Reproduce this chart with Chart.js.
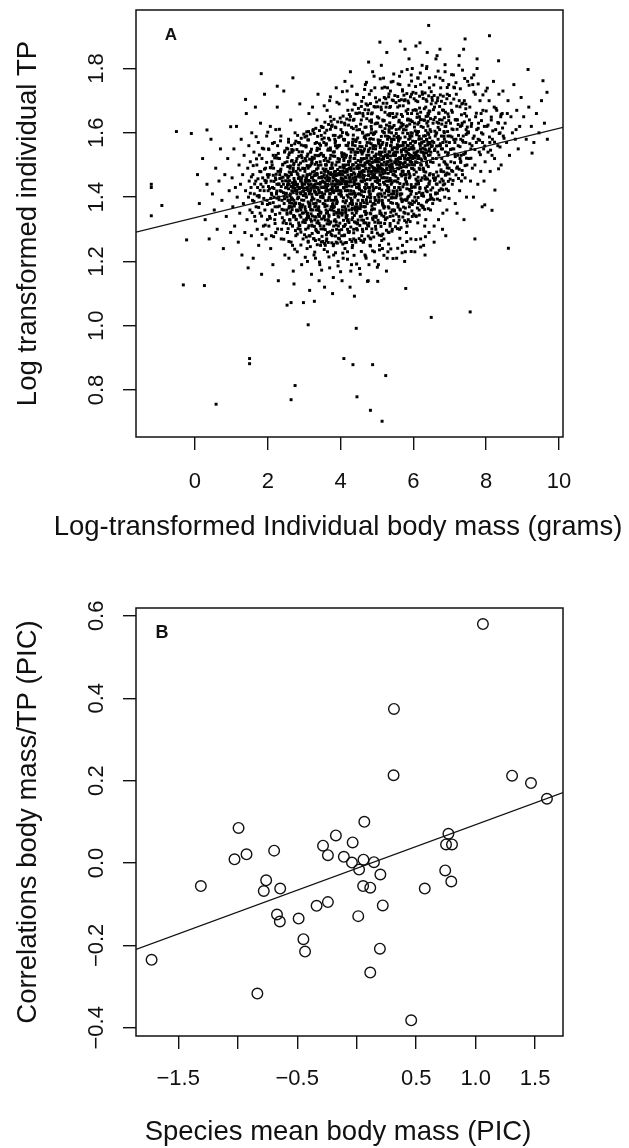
<!DOCTYPE html>
<html>
<head>
<meta charset="utf-8">
<script src="https://cdn.jsdelivr.net/npm/chart.js@4.4.1/dist/chart.umd.min.js"></script>
<style>
  html, body { margin: 0; padding: 0; background: #fff; }
  #wrap { position: relative; width: 629px; height: 1148px; }
  canvas { position: absolute; left: 0; }
</style>
</head>
<body>
<div id="wrap">
  <canvas id="panelA" width="629" height="560" style="top:0"></canvas>
  <canvas id="panelB" width="629" height="588" style="top:560px"></canvas>
</div>
<script>
// ---- Panel A: individual body mass vs trophic position (pairs: mass, TP) ----
const outliersA = [
  -1.20,1.44, -1.20,1.43, -0.91,1.374, -1.20,1.342, -0.51,1.604, -0.10,1.598, 0.33,1.609, 0.98,1.619,
  1.39,1.704, 1.82,1.784, 2.69,1.771, 2.26,1.745, -0.32,1.127, 0.26,1.125, -0.23,1.267,
  0.58,0.756, 1.50,0.898, 1.50,0.882, 2.75,0.814, 2.64,0.770, 3.11,1.003, 4.09,0.898, 4.34,0.879,
  4.88,0.879, 5.24,0.845, 4.45,0.779, 4.82,0.737, 5.14,0.703, 4.43,0.992, 6.49,1.026, 7.56,1.043,
  2.53,1.064, 2.64,1.072, 2.98,1.072, 3.28,1.076, 8.61,1.241, 5.79,1.116, 4.38,1.092, 4.74,1.138,
  5.02,1.138, 6.42,1.934, 5.08,1.882, 5.64,1.885, 7.42,1.892, 8.09,1.902, 8.34,1.824, 9.15,1.797,
  9.56,1.762, 9.67,1.726, 9.26,1.537, 8.34,1.488, 8.24,1.422, 8.16,1.359, 7.96,1.376, 7.69,1.27,
  6.07,1.87, 6.73,1.86, 5.97,1.80, 7.26,1.84, 7.75,1.83
];

const mass0to2 = [
  0.07,1.47, 0.12,1.38, 0.21,1.52, 0.28,1.33, 0.33,1.44, 0.39,1.27, 0.44,1.58, 0.48,1.41,
  0.53,1.36, 0.57,1.49, 0.61,1.30, 0.66,1.45, 0.70,1.55, 0.74,1.39, 0.78,1.24, 0.82,1.47, 0.86,1.34, 0.90,1.52, 0.94,1.42, 0.98,1.29,
  1.02,1.46, 1.04,1.37, 1.07,1.55, 1.09,1.31, 1.11,1.43, 1.14,1.62, 1.16,1.40, 1.19,1.26, 1.21,1.50, 1.23,1.35, 1.25,1.44, 1.27,1.58,
  1.29,1.22, 1.31,1.47, 1.33,1.38, 1.35,1.53, 1.37,1.29, 1.39,1.42, 1.41,1.66, 1.43,1.33, 1.45,1.49, 1.46,1.18, 1.47,1.40, 1.48,1.56, 1.49,1.45,
  1.51,1.36, 1.52,1.51, 1.54,1.43, 1.55,1.28, 1.56,1.60, 1.58,1.39, 1.59,1.47, 1.60,1.21, 1.62,1.54, 1.63,1.41, 1.64,1.34, 1.66,1.68,
  1.67,1.45, 1.68,1.37, 1.70,1.50, 1.71,1.30, 1.72,1.43, 1.74,1.57, 1.75,1.25, 1.76,1.40, 1.78,1.48, 1.79,1.35, 1.80,1.63, 1.81,1.44,
  1.83,1.16, 1.84,1.52, 1.85,1.38, 1.86,1.46, 1.88,1.31, 1.89,1.55, 1.90,1.42, 1.91,1.72, 1.92,1.36, 1.94,1.49, 1.95,1.27, 1.96,1.45,
  1.97,1.59, 1.98,1.39, 1.99,1.33, 1.99,1.47
];

const mass2to3 = [
  2.01,1.42, 2.02,1.55, 2.03,1.31, 2.04,1.47, 2.06,1.38, 2.07,1.62, 2.08,1.24, 2.09,1.45, 2.11,1.51, 2.12,1.36, 2.13,1.43, 2.14,1.19,
  2.16,1.49, 2.17,1.40, 2.18,1.57, 2.19,1.33, 2.21,1.46, 2.22,1.29, 2.23,1.53, 2.24,1.41, 2.26,1.68, 2.27,1.37, 2.28,1.48, 2.29,1.14,
  2.31,1.44, 2.32,1.52, 2.33,1.35, 2.34,1.42, 2.36,1.59, 2.37,1.27, 2.38,1.46, 2.39,1.39, 2.41,1.50, 2.42,1.32, 2.43,1.44, 2.44,1.73,
  2.45,1.38, 2.46,1.54, 2.47,1.22, 2.48,1.47, 2.49,1.41, 2.12,1.50, 2.20,1.37, 2.25,1.44, 2.30,1.40, 2.35,1.48, 2.40,1.45, 2.05,1.34,
  2.15,1.53, 2.10,1.28, 2.27,1.56, 2.33,1.47, 2.44,1.36, 2.38,1.30, 2.22,1.61,
  2.51,1.43, 2.52,1.36, 2.53,1.51, 2.54,1.29, 2.55,1.46, 2.56,1.39, 2.57,1.58, 2.58,1.21, 2.59,1.44, 2.60,1.33, 2.61,1.49, 2.62,1.41,
  2.63,1.64, 2.64,1.26, 2.65,1.47, 2.66,1.37, 2.67,1.54, 2.68,1.31, 2.69,1.43, 2.70,1.17, 2.71,1.50, 2.72,1.39, 2.73,1.45, 2.74,1.34,
  2.75,1.60, 2.76,1.42, 2.77,1.28, 2.78,1.48, 2.79,1.36, 2.80,1.52, 2.81,1.23, 2.82,1.44, 2.83,1.40, 2.84,1.57, 2.85,1.32, 2.86,1.46,
  2.87,1.38, 2.88,1.69, 2.89,1.30, 2.90,1.45, 2.91,1.41, 2.92,1.53, 2.93,1.19, 2.94,1.43, 2.95,1.35, 2.96,1.49, 2.97,1.27, 2.98,1.42,
  2.99,1.56, 2.53,1.40, 2.57,1.45, 2.61,1.37, 2.66,1.42, 2.70,1.48, 2.74,1.44, 2.78,1.33, 2.83,1.47, 2.87,1.43, 2.91,1.36, 2.95,1.44,
  2.99,1.39, 2.55,1.55, 2.68,1.25, 2.72,1.13, 2.80,1.41, 2.85,1.50, 2.93,1.46, 2.63,1.35, 2.76,1.38
];

const mass3to4 = [
  3.01,1.44, 3.02,1.37, 3.03,1.52, 3.04,1.30, 3.05,1.46, 3.06,1.40, 3.07,1.59, 3.08,1.24, 3.09,1.43, 3.10,1.35, 3.11,1.49, 3.12,1.42,
  3.13,1.66, 3.14,1.28, 3.15,1.47, 3.16,1.38, 3.17,1.54, 3.18,1.33, 3.19,1.44, 3.20,1.16, 3.21,1.51, 3.22,1.40, 3.23,1.46, 3.24,1.36,
  3.25,1.61, 3.26,1.43, 3.27,1.27, 3.28,1.48, 3.29,1.37, 3.30,1.53, 3.31,1.21, 3.32,1.45, 3.33,1.41, 3.34,1.57, 3.35,1.32, 3.36,1.47,
  3.37,1.39, 3.38,1.72, 3.39,1.29, 3.40,1.46, 3.41,1.42, 3.42,1.55, 3.43,1.19, 3.44,1.44, 3.45,1.35, 3.46,1.50, 3.47,1.26, 3.48,1.43,
  3.49,1.58, 3.02,1.48, 3.06,1.33, 3.10,1.45, 3.14,1.41, 3.18,1.50, 3.22,1.31, 3.26,1.38, 3.30,1.44, 3.34,1.36, 3.38,1.49, 3.42,1.34,
  3.46,1.40, 3.04,1.41, 3.08,1.47, 3.12,1.34, 3.16,1.45, 3.20,1.39, 3.24,1.52, 3.28,1.42, 3.32,1.30, 3.36,1.43, 3.40,1.37, 3.44,1.51,
  3.48,1.46, 3.15,1.11, 3.27,1.22, 3.35,1.64, 3.45,1.25, 3.05,1.56, 3.11,1.26, 3.23,1.68, 3.41,1.14, 3.31,1.47, 3.19,1.36, 3.09,1.20,
  3.47,1.62,
  3.51,1.45, 3.52,1.38, 3.53,1.53, 3.54,1.31, 3.55,1.47, 3.56,1.41, 3.57,1.60, 3.58,1.25, 3.59,1.44, 3.60,1.36, 3.61,1.50, 3.62,1.43,
  3.63,1.67, 3.64,1.29, 3.65,1.48, 3.66,1.39, 3.67,1.55, 3.68,1.34, 3.69,1.45, 3.70,1.18, 3.71,1.52, 3.72,1.41, 3.73,1.47, 3.74,1.37,
  3.75,1.62, 3.76,1.44, 3.77,1.28, 3.78,1.49, 3.79,1.38, 3.80,1.54, 3.81,1.22, 3.82,1.46, 3.83,1.42, 3.84,1.58, 3.85,1.33, 3.86,1.48,
  3.87,1.40, 3.88,1.74, 3.89,1.30, 3.90,1.47, 3.91,1.43, 3.92,1.56, 3.93,1.20, 3.94,1.45, 3.95,1.36, 3.96,1.51, 3.97,1.27, 3.98,1.44,
  3.99,1.59, 3.51,1.40, 3.55,1.34, 3.59,1.50, 3.63,1.42, 3.67,1.46, 3.71,1.32, 3.75,1.39, 3.79,1.45, 3.83,1.37, 3.87,1.50, 3.91,1.35,
  3.95,1.41, 3.99,1.48, 3.53,1.43, 3.57,1.48, 3.61,1.35, 3.65,1.44, 3.69,1.40, 3.73,1.53, 3.77,1.43, 3.81,1.31, 3.85,1.44, 3.89,1.38,
  3.93,1.52, 3.97,1.47, 3.56,1.12, 3.64,1.23, 3.72,1.65, 3.80,1.15, 3.88,1.26, 3.96,1.69, 3.54,1.57, 3.62,1.27, 3.70,1.70, 3.78,1.10,
  3.86,1.56, 3.94,1.31, 3.58,1.46, 3.66,1.33, 3.74,1.49, 3.82,1.39, 3.90,1.42, 3.98,1.35, 3.60,1.42, 3.76,1.36, 3.84,1.47, 3.92,1.45,
  3.68,1.51
];

const mass4to5 = [
  4.49,1.47, 4.48,1.39, 4.47,1.55, 4.46,1.32, 4.45,1.49, 4.44,1.43, 4.43,1.62, 4.42,1.26, 4.41,1.46, 4.40,1.37, 4.39,1.52, 4.38,1.44,
  4.37,1.69, 4.36,1.30, 4.35,1.50, 4.34,1.41, 4.33,1.57, 4.32,1.35, 4.31,1.47, 4.30,1.19, 4.29,1.54, 4.28,1.42, 4.27,1.49, 4.26,1.38,
  4.25,1.64, 4.24,1.46, 4.23,1.29, 4.22,1.51, 4.21,1.40, 4.20,1.56, 4.19,1.23, 4.18,1.48, 4.17,1.44, 4.16,1.60, 4.15,1.34, 4.14,1.50,
  4.13,1.42, 4.12,1.76, 4.11,1.31, 4.10,1.49, 4.09,1.45, 4.08,1.58, 4.07,1.21, 4.06,1.47, 4.05,1.37, 4.04,1.53, 4.03,1.28, 4.02,1.46,
  4.01,1.61, 4.01,1.42, 4.05,1.36, 4.09,1.52, 4.13,1.44, 4.17,1.48, 4.21,1.33, 4.25,1.41, 4.29,1.47, 4.33,1.38, 4.37,1.52, 4.41,1.36,
  4.45,1.43, 4.49,1.50, 4.03,1.45, 4.07,1.50, 4.11,1.37, 4.15,1.46, 4.19,1.42, 4.23,1.55, 4.27,1.45, 4.31,1.33, 4.35,1.46, 4.39,1.40,
  4.43,1.54, 4.47,1.49, 4.04,1.14, 4.12,1.24, 4.20,1.67, 4.28,1.17, 4.36,1.27, 4.44,1.72, 4.02,1.59, 4.10,1.28, 4.18,1.73, 4.26,1.12,
  4.34,1.58, 4.42,1.32, 4.06,1.48, 4.14,1.35, 4.22,1.51, 4.30,1.41, 4.38,1.44, 4.46,1.37, 4.08,1.43, 4.16,1.53, 4.24,1.49, 4.32,1.39,
  4.40,1.56, 4.48,1.41, 4.11,1.63, 4.27,1.79, 4.33,1.25, 4.45,1.66, 4.19,1.30, 4.39,1.54, 4.23,1.36,
  4.51,1.49, 4.52,1.41, 4.53,1.57, 4.54,1.34, 4.55,1.51, 4.56,1.45, 4.57,1.64, 4.58,1.28, 4.59,1.48, 4.60,1.39, 4.61,1.54, 4.62,1.46,
  4.63,1.71, 4.64,1.32, 4.65,1.52, 4.66,1.43, 4.67,1.59, 4.68,1.37, 4.69,1.49, 4.70,1.21, 4.71,1.56, 4.72,1.44, 4.73,1.51, 4.74,1.40,
  4.75,1.66, 4.76,1.48, 4.77,1.31, 4.78,1.53, 4.79,1.42, 4.80,1.58, 4.81,1.25, 4.82,1.50, 4.83,1.46, 4.84,1.62, 4.85,1.36, 4.86,1.52,
  4.87,1.44, 4.88,1.79, 4.89,1.33, 4.90,1.51, 4.91,1.47, 4.92,1.60, 4.93,1.23, 4.94,1.49, 4.95,1.39, 4.96,1.55, 4.97,1.30, 4.98,1.48,
  4.99,1.63, 4.51,1.44, 4.55,1.38, 4.59,1.54, 4.63,1.46, 4.67,1.50, 4.71,1.35, 4.75,1.43, 4.79,1.49, 4.83,1.40, 4.87,1.54, 4.91,1.38,
  4.95,1.45, 4.99,1.52, 4.53,1.47, 4.57,1.52, 4.61,1.39, 4.65,1.48, 4.69,1.44, 4.73,1.57, 4.77,1.47, 4.81,1.35, 4.85,1.48, 4.89,1.42,
  4.93,1.56, 4.97,1.51, 4.54,1.16, 4.62,1.26, 4.70,1.69, 4.78,1.19, 4.86,1.29, 4.94,1.74, 4.52,1.61, 4.60,1.30, 4.68,1.75, 4.76,1.14,
  4.84,1.60, 4.92,1.34, 4.56,1.50, 4.64,1.37, 4.72,1.53, 4.80,1.43, 4.88,1.46, 4.96,1.39, 4.58,1.45, 4.66,1.55, 4.74,1.51, 4.82,1.41,
  4.90,1.58, 4.98,1.43, 4.61,1.66, 4.77,1.82, 4.83,1.27, 4.95,1.68, 4.69,1.32, 4.89,1.56, 4.73,1.38, 4.57,1.42, 4.85,1.64, 4.93,1.47,
  4.67,1.22, 4.79,1.72
];

const mass5to6 = [
  5.49,1.51, 5.48,1.43, 5.47,1.59, 5.46,1.36, 5.45,1.53, 5.44,1.47, 5.43,1.66, 5.42,1.30, 5.41,1.50, 5.40,1.41, 5.39,1.56, 5.38,1.48,
  5.37,1.73, 5.36,1.34, 5.35,1.54, 5.34,1.45, 5.33,1.61, 5.32,1.39, 5.31,1.51, 5.30,1.23, 5.29,1.58, 5.28,1.46, 5.27,1.53, 5.26,1.42,
  5.25,1.68, 5.24,1.50, 5.23,1.33, 5.22,1.55, 5.21,1.44, 5.20,1.60, 5.19,1.27, 5.18,1.52, 5.17,1.48, 5.16,1.64, 5.15,1.38, 5.14,1.54,
  5.13,1.46, 5.12,1.81, 5.11,1.35, 5.10,1.53, 5.09,1.49, 5.08,1.62, 5.07,1.25, 5.06,1.51, 5.05,1.41, 5.04,1.57, 5.03,1.32, 5.02,1.50,
  5.01,1.65, 5.01,1.46, 5.05,1.40, 5.09,1.56, 5.13,1.48, 5.17,1.52, 5.21,1.37, 5.25,1.45, 5.29,1.51, 5.33,1.42, 5.37,1.56, 5.41,1.40,
  5.45,1.47, 5.49,1.54, 5.03,1.49, 5.07,1.54, 5.11,1.41, 5.15,1.50, 5.19,1.46, 5.23,1.59, 5.27,1.49, 5.31,1.37, 5.35,1.50, 5.39,1.44,
  5.43,1.58, 5.47,1.53, 5.04,1.19, 5.12,1.28, 5.20,1.71, 5.28,1.21, 5.36,1.31, 5.44,1.76, 5.02,1.63, 5.10,1.32, 5.18,1.77, 5.26,1.17,
  5.34,1.62, 5.42,1.36, 5.06,1.52, 5.14,1.39, 5.22,1.55, 5.30,1.45, 5.38,1.48, 5.46,1.41, 5.08,1.47, 5.16,1.57, 5.24,1.53, 5.32,1.43,
  5.40,1.60, 5.48,1.45, 5.11,1.68, 5.27,1.85, 5.33,1.29, 5.45,1.70, 5.19,1.34, 5.39,1.58, 5.23,1.40, 5.07,1.44, 5.35,1.66, 5.43,1.49,
  5.15,1.24, 5.29,1.74,
  5.51,1.53, 5.52,1.45, 5.53,1.61, 5.54,1.38, 5.55,1.55, 5.56,1.49, 5.57,1.68, 5.58,1.32, 5.59,1.52, 5.60,1.43, 5.61,1.58, 5.62,1.50,
  5.63,1.75, 5.64,1.36, 5.65,1.56, 5.66,1.47, 5.67,1.63, 5.68,1.41, 5.69,1.53, 5.70,1.25, 5.71,1.60, 5.72,1.48, 5.73,1.55, 5.74,1.44,
  5.75,1.70, 5.76,1.52, 5.77,1.35, 5.78,1.57, 5.79,1.46, 5.80,1.62, 5.81,1.29, 5.82,1.54, 5.83,1.50, 5.84,1.66, 5.85,1.40, 5.86,1.56,
  5.87,1.48, 5.88,1.83, 5.89,1.37, 5.90,1.55, 5.91,1.51, 5.92,1.64, 5.93,1.27, 5.94,1.53, 5.95,1.43, 5.96,1.59, 5.97,1.34, 5.98,1.52,
  5.99,1.67, 5.51,1.48, 5.55,1.42, 5.59,1.58, 5.63,1.50, 5.67,1.54, 5.71,1.39, 5.75,1.47, 5.79,1.53, 5.83,1.44, 5.87,1.58, 5.91,1.42,
  5.95,1.49, 5.99,1.56, 5.53,1.51, 5.57,1.56, 5.61,1.43, 5.65,1.52, 5.69,1.48, 5.73,1.61, 5.77,1.51, 5.81,1.39, 5.85,1.52, 5.89,1.46,
  5.93,1.60, 5.97,1.55, 5.54,1.21, 5.62,1.30, 5.70,1.73, 5.78,1.23, 5.86,1.33, 5.94,1.78, 5.52,1.65, 5.60,1.34, 5.68,1.79, 5.76,1.20,
  5.84,1.64, 5.92,1.38, 5.56,1.54, 5.64,1.41, 5.72,1.57, 5.80,1.47, 5.88,1.50, 5.96,1.43, 5.61,1.70, 5.77,1.86, 5.83,1.31, 5.95,1.72
];

const mass6to7 = [
  6.01,1.55, 6.02,1.47, 6.03,1.63, 6.04,1.40, 6.05,1.57, 6.06,1.51, 6.07,1.70, 6.08,1.34, 6.09,1.54, 6.10,1.45, 6.11,1.60, 6.12,1.52,
  6.13,1.77, 6.14,1.38, 6.15,1.58, 6.16,1.49, 6.17,1.65, 6.18,1.43, 6.19,1.55, 6.20,1.27, 6.21,1.62, 6.22,1.50, 6.23,1.57, 6.24,1.46,
  6.25,1.72, 6.26,1.54, 6.27,1.37, 6.28,1.59, 6.29,1.48, 6.30,1.64, 6.31,1.31, 6.32,1.56, 6.33,1.52, 6.34,1.68, 6.35,1.42, 6.36,1.58,
  6.37,1.50, 6.38,1.85, 6.39,1.39, 6.40,1.57, 6.41,1.53, 6.42,1.66, 6.43,1.29, 6.44,1.55, 6.45,1.45, 6.46,1.61, 6.47,1.36, 6.48,1.54,
  6.49,1.69, 6.03,1.50, 6.07,1.44, 6.11,1.60, 6.15,1.52, 6.19,1.56, 6.23,1.41, 6.27,1.49, 6.31,1.55, 6.35,1.46, 6.39,1.60, 6.43,1.44,
  6.47,1.51, 6.05,1.53, 6.13,1.45, 6.21,1.54, 6.29,1.53, 6.37,1.63, 6.45,1.57, 6.04,1.23, 6.12,1.32, 6.20,1.75, 6.28,1.25, 6.36,1.80,
  6.44,1.74, 6.08,1.67, 6.16,1.36, 6.24,1.81, 6.32,1.22, 6.40,1.66, 6.48,1.40, 6.18,1.88, 6.34,1.33,
  6.99,1.57, 6.98,1.49, 6.97,1.65, 6.96,1.42, 6.95,1.59, 6.94,1.53, 6.93,1.72, 6.92,1.36, 6.91,1.56, 6.90,1.47, 6.89,1.62, 6.88,1.54,
  6.87,1.79, 6.86,1.40, 6.85,1.60, 6.84,1.51, 6.83,1.67, 6.82,1.45, 6.81,1.57, 6.80,1.30, 6.79,1.64, 6.78,1.52, 6.77,1.59, 6.76,1.48,
  6.75,1.74, 6.74,1.56, 6.73,1.39, 6.72,1.61, 6.71,1.50, 6.70,1.66, 6.69,1.33, 6.68,1.58, 6.67,1.54, 6.66,1.70, 6.65,1.44, 6.64,1.60,
  6.63,1.52, 6.62,1.83, 6.61,1.41, 6.60,1.59, 6.59,1.55, 6.58,1.68, 6.57,1.31, 6.56,1.57, 6.55,1.47, 6.54,1.63, 6.53,1.38, 6.52,1.56,
  6.51,1.71, 6.53,1.52, 6.61,1.46, 6.69,1.63, 6.77,1.55, 6.85,1.58, 6.93,1.50, 6.57,1.26, 6.73,1.77, 6.89,1.28, 6.65,1.84, 6.81,1.35,
  6.97,1.75, 6.55,1.46, 6.71,1.56, 6.87,1.62
];

const mass7to10 = [
  7.01,1.59, 7.03,1.51, 7.05,1.67, 7.07,1.44, 7.09,1.61, 7.11,1.55, 7.13,1.74, 7.15,1.38, 7.17,1.58, 7.19,1.49, 7.21,1.64, 7.23,1.56,
  7.25,1.81, 7.27,1.42, 7.29,1.62, 7.31,1.53, 7.33,1.69, 7.35,1.47, 7.37,1.59, 7.39,1.33, 7.41,1.66, 7.43,1.54, 7.45,1.61, 7.47,1.50,
  7.49,1.76, 7.02,1.63, 7.08,1.48, 7.14,1.57, 7.20,1.35, 7.26,1.70, 7.32,1.45, 7.38,1.86, 7.44,1.57, 7.10,1.78, 7.22,1.53, 7.34,1.63,
  7.46,1.40, 7.06,1.55, 7.18,1.72, 7.30,1.58, 7.42,1.46, 7.16,1.64, 7.28,1.52, 7.40,1.70, 7.48,1.60,
  7.51,1.60, 7.53,1.52, 7.55,1.68, 7.57,1.45, 7.59,1.62, 7.61,1.56, 7.63,1.75, 7.65,1.40, 7.67,1.59, 7.69,1.50, 7.71,1.65, 7.73,1.57,
  7.75,1.80, 7.77,1.44, 7.79,1.63, 7.81,1.54, 7.83,1.70, 7.85,1.48, 7.87,1.60, 7.89,1.37, 7.91,1.67, 7.93,1.55, 7.95,1.62, 7.97,1.51,
  7.99,1.73, 7.54,1.64, 7.62,1.49, 7.70,1.72, 7.78,1.58, 7.86,1.66, 7.94,1.45, 7.58,1.55, 7.74,1.61, 7.90,1.57, 7.66,1.78,
  8.02,1.62, 8.05,1.54, 8.08,1.70, 8.11,1.48, 8.14,1.64, 8.17,1.58, 8.20,1.76, 8.23,1.52, 8.26,1.61, 8.29,1.67, 8.32,1.56, 8.35,1.72,
  8.38,1.60, 8.41,1.50, 8.44,1.66, 8.47,1.59, 8.10,1.57, 8.22,1.68, 8.34,1.63, 8.46,1.73, 8.16,1.53, 8.40,1.65,
  8.52,1.63, 8.56,1.57, 8.60,1.70, 8.64,1.53, 8.68,1.65, 8.72,1.60, 8.76,1.75, 8.80,1.58, 8.84,1.67, 8.88,1.55, 8.92,1.62, 8.96,1.71,
  8.58,1.66, 8.82,1.61,
  9.03,1.65, 9.10,1.58, 9.17,1.68, 9.24,1.62, 9.31,1.57, 9.38,1.66, 9.45,1.60, 9.52,1.70, 9.60,1.63, 9.68,1.58
];

// the crowded middle of the cloud (mass 2-7)
const denseCore = [
  2.02,1.433, 2.05,1.381, 2.07,1.492, 2.10,1.412, 2.12,1.356, 2.15,1.468, 2.17,1.427, 2.20,1.318, 2.22,1.455, 2.25,1.397,
  2.27,1.521, 2.30,1.441, 2.32,1.372, 2.35,1.483, 2.37,1.418, 2.40,1.336, 2.42,1.462, 2.45,1.403, 2.47,1.507, 2.49,1.429,
  2.51,1.412, 2.52,1.468, 2.53,1.351, 2.54,1.437, 2.55,1.495, 2.56,1.389, 2.57,1.426, 2.58,1.532, 2.59,1.372, 2.60,1.451,
  2.61,1.404, 2.62,1.317, 2.63,1.476, 2.64,1.433, 2.65,1.398, 2.66,1.548, 2.67,1.361, 2.68,1.445, 2.69,1.417, 2.70,1.489,
  2.71,1.338, 2.72,1.458, 2.73,1.379, 2.74,1.427, 2.55,1.442, 2.60,1.383, 2.65,1.512, 2.70,1.436, 2.58,1.465, 2.68,1.394,
  2.76,1.447, 2.77,1.382, 2.78,1.511, 2.79,1.419, 2.80,1.357, 2.81,1.473, 2.82,1.431, 2.83,1.302, 2.84,1.458, 2.85,1.399,
  2.86,1.541, 2.87,1.426, 2.88,1.367, 2.89,1.484, 2.90,1.413, 2.91,1.338, 2.92,1.452, 2.93,1.391, 2.94,1.523, 2.95,1.437,
  2.96,1.376, 2.97,1.466, 2.98,1.405, 2.99,1.329, 2.78,1.438, 2.82,1.395, 2.86,1.462, 2.90,1.371, 2.94,1.444, 2.98,1.489,
  2.80,1.421, 2.88,1.312, 2.92,1.562, 2.96,1.418,
  3.01,1.428, 3.02,1.489, 3.03,1.362, 3.04,1.447, 3.05,1.513, 3.06,1.401, 3.07,1.334, 3.08,1.466, 3.09,1.423, 3.10,1.578,
  3.11,1.385, 3.12,1.452, 3.13,1.311, 3.14,1.437, 3.15,1.496, 3.16,1.372, 3.17,1.419, 3.18,1.541, 3.19,1.348, 3.20,1.461,
  3.21,1.409, 3.22,1.287, 3.23,1.478, 3.24,1.433, 3.02,1.411, 3.05,1.355, 3.08,1.527, 3.11,1.441, 3.14,1.379, 3.17,1.472,
  3.20,1.325, 3.23,1.396, 3.06,1.458, 3.12,1.604, 3.18,1.429, 3.21,1.505, 3.09,1.343, 3.15,1.415,
  3.26,1.452, 3.27,1.394, 3.28,1.521, 3.29,1.417, 3.30,1.339, 3.31,1.468, 3.32,1.431, 3.33,1.296, 3.34,1.487, 3.35,1.408,
  3.36,1.552, 3.37,1.442, 3.38,1.365, 3.39,1.499, 3.40,1.423, 3.41,1.318, 3.42,1.461, 3.43,1.387, 3.44,1.532, 3.45,1.446,
  3.46,1.353, 3.47,1.476, 3.48,1.414, 3.49,1.278, 3.27,1.437, 3.30,1.502, 3.33,1.381, 3.36,1.429, 3.39,1.346, 3.42,1.566,
  3.45,1.401, 3.48,1.463, 3.29,1.329, 3.35,1.474, 3.41,1.413, 3.47,1.592, 3.32,1.372, 3.44,1.311,
  3.51,1.463, 3.52,1.398, 3.53,1.527, 3.54,1.431, 3.55,1.341, 3.56,1.482, 3.57,1.445, 3.58,1.299, 3.59,1.501, 3.60,1.419,
  3.61,1.566, 3.62,1.452, 3.63,1.373, 3.64,1.512, 3.65,1.436, 3.66,1.326, 3.67,1.474, 3.68,1.397, 3.69,1.548, 3.70,1.458,
  3.71,1.361, 3.72,1.489, 3.73,1.424, 3.74,1.284, 3.52,1.447, 3.55,1.514, 3.58,1.389, 3.61,1.438, 3.64,1.352, 3.67,1.583,
  3.70,1.411, 3.73,1.476, 3.54,1.335, 3.60,1.487, 3.66,1.421, 3.72,1.611, 3.57,1.378, 3.69,1.316, 3.63,1.466, 3.51,1.405,
  3.76,1.441, 3.77,1.506, 3.78,1.377, 3.79,1.462, 3.80,1.528, 3.81,1.414, 3.82,1.346, 3.83,1.479, 3.84,1.436, 3.85,1.592,
  3.86,1.398, 3.87,1.467, 3.88,1.323, 3.89,1.451, 3.90,1.509, 3.91,1.385, 3.92,1.432, 3.93,1.557, 3.94,1.359, 3.95,1.474,
  3.96,1.421, 3.97,1.297, 3.98,1.493, 3.99,1.446, 3.77,1.426, 3.80,1.367, 3.83,1.541, 3.86,1.455, 3.89,1.391, 3.92,1.486,
  3.95,1.338, 3.98,1.409, 3.79,1.471, 3.85,1.618, 3.91,1.442, 3.97,1.518, 3.82,1.356, 3.88,1.428, 3.94,1.272, 3.76,1.499,
  4.01,1.471, 4.02,1.405, 4.03,1.538, 4.04,1.442, 4.05,1.351, 4.06,1.493, 4.07,1.456, 4.08,1.309, 4.09,1.514, 4.10,1.428,
  4.11,1.579, 4.12,1.463, 4.13,1.382, 4.14,1.524, 4.15,1.447, 4.16,1.335, 4.17,1.486, 4.18,1.406, 4.19,1.561, 4.20,1.469,
  4.21,1.372, 4.22,1.501, 4.23,1.435, 4.24,1.293, 4.02,1.458, 4.05,1.526, 4.08,1.398, 4.11,1.449, 4.14,1.363, 4.17,1.597,
  4.20,1.421, 4.23,1.488, 4.04,1.344, 4.10,1.498, 4.16,1.432, 4.22,1.624, 4.07,1.387, 4.19,1.326, 4.13,1.477, 4.01,1.414,
  4.26,1.462, 4.27,1.527, 4.28,1.396, 4.29,1.483, 4.30,1.549, 4.31,1.434, 4.32,1.366, 4.33,1.501, 4.34,1.457, 4.35,1.613,
  4.36,1.418, 4.37,1.488, 4.38,1.343, 4.39,1.472, 4.40,1.531, 4.41,1.405, 4.42,1.453, 4.43,1.578, 4.44,1.379, 4.45,1.495,
  4.46,1.441, 4.47,1.317, 4.48,1.514, 4.49,1.467, 4.27,1.447, 4.30,1.388, 4.33,1.562, 4.36,1.476, 4.39,1.412, 4.42,1.507,
  4.45,1.358, 4.48,1.429, 4.29,1.492, 4.35,1.639, 4.41,1.463, 4.47,1.539, 4.32,1.377, 4.38,1.449, 4.44,1.302, 4.26,1.521,
  4.51,1.491, 4.52,1.425, 4.53,1.558, 4.54,1.462, 4.55,1.371, 4.56,1.513, 4.57,1.476, 4.58,1.329, 4.59,1.534, 4.60,1.448,
  4.61,1.599, 4.62,1.483, 4.63,1.402, 4.64,1.544, 4.65,1.467, 4.66,1.355, 4.67,1.506, 4.68,1.426, 4.69,1.581, 4.70,1.489,
  4.71,1.392, 4.72,1.521, 4.73,1.455, 4.74,1.313, 4.52,1.478, 4.55,1.546, 4.58,1.418, 4.61,1.469, 4.64,1.383, 4.67,1.617,
  4.70,1.441, 4.73,1.508, 4.54,1.364, 4.60,1.518, 4.66,1.452, 4.72,1.644, 4.57,1.407, 4.69,1.346, 4.63,1.497, 4.51,1.434,
  4.76,1.482, 4.77,1.547, 4.78,1.416, 4.79,1.503, 4.80,1.569, 4.81,1.454, 4.82,1.386, 4.83,1.521, 4.84,1.477, 4.85,1.633,
  4.86,1.438, 4.87,1.508, 4.88,1.363, 4.89,1.492, 4.90,1.551, 4.91,1.425, 4.92,1.473, 4.93,1.598, 4.94,1.399, 4.95,1.515,
  4.96,1.461, 4.97,1.337, 4.98,1.534, 4.99,1.487, 4.77,1.467, 4.80,1.408, 4.83,1.582, 4.86,1.496, 4.89,1.432, 4.92,1.527,
  4.95,1.378, 4.98,1.449, 4.79,1.512, 4.85,1.659, 4.91,1.483, 4.97,1.559, 4.82,1.397, 4.88,1.469, 4.94,1.322, 4.76,1.541,
  5.01,1.511, 5.02,1.445, 5.03,1.578, 5.04,1.482, 5.05,1.391, 5.06,1.533, 5.07,1.496, 5.08,1.349, 5.09,1.554, 5.10,1.468,
  5.11,1.619, 5.12,1.503, 5.13,1.422, 5.14,1.564, 5.15,1.487, 5.16,1.375, 5.17,1.526, 5.18,1.446, 5.19,1.601, 5.20,1.509,
  5.21,1.412, 5.22,1.541, 5.23,1.475, 5.24,1.333, 5.02,1.498, 5.05,1.566, 5.08,1.438, 5.11,1.489, 5.14,1.403, 5.17,1.637,
  5.20,1.461, 5.23,1.528, 5.04,1.384, 5.10,1.538, 5.16,1.472, 5.22,1.664, 5.07,1.427, 5.19,1.366, 5.13,1.517, 5.01,1.454,
  5.26,1.502, 5.27,1.567, 5.28,1.436, 5.29,1.523, 5.30,1.589, 5.31,1.474, 5.32,1.406, 5.33,1.541, 5.34,1.497, 5.35,1.653,
  5.36,1.458, 5.37,1.528, 5.38,1.383, 5.39,1.512, 5.40,1.571, 5.41,1.445, 5.42,1.493, 5.43,1.618, 5.44,1.419, 5.45,1.535,
  5.46,1.481, 5.47,1.357, 5.48,1.554, 5.49,1.507, 5.27,1.487, 5.30,1.428, 5.33,1.602, 5.36,1.516, 5.39,1.452, 5.42,1.547,
  5.45,1.398, 5.48,1.469, 5.29,1.532, 5.35,1.679, 5.41,1.503, 5.47,1.579, 5.32,1.417, 5.38,1.489, 5.44,1.342, 5.26,1.561,
  5.51,1.531, 5.52,1.465, 5.53,1.598, 5.54,1.502, 5.55,1.411, 5.56,1.553, 5.57,1.516, 5.58,1.369, 5.59,1.574, 5.60,1.488,
  5.61,1.639, 5.62,1.523, 5.63,1.442, 5.64,1.584, 5.65,1.507, 5.66,1.395, 5.67,1.546, 5.68,1.466, 5.69,1.621, 5.70,1.529,
  5.71,1.432, 5.72,1.561, 5.73,1.495, 5.74,1.353, 5.52,1.518, 5.55,1.586, 5.58,1.458, 5.61,1.509, 5.64,1.423, 5.67,1.657,
  5.70,1.481, 5.73,1.548, 5.54,1.404, 5.60,1.558, 5.66,1.492, 5.72,1.684, 5.57,1.447, 5.69,1.386,
  5.76,1.522, 5.77,1.587, 5.78,1.456, 5.79,1.543, 5.80,1.609, 5.81,1.494, 5.82,1.426, 5.83,1.561, 5.84,1.517, 5.85,1.673,
  5.86,1.478, 5.87,1.548, 5.88,1.403, 5.89,1.532, 5.90,1.591, 5.91,1.465, 5.92,1.513, 5.93,1.638, 5.94,1.439, 5.95,1.555,
  5.96,1.501, 5.97,1.377, 5.98,1.574, 5.99,1.527, 5.77,1.507, 5.80,1.448, 5.83,1.622, 5.86,1.536, 5.89,1.472, 5.92,1.567,
  5.95,1.418, 5.98,1.489, 5.79,1.552, 5.85,1.699, 5.91,1.523, 5.97,1.599,
  6.01,1.551, 6.02,1.485, 6.03,1.618, 6.04,1.522, 6.05,1.431, 6.06,1.573, 6.07,1.536, 6.08,1.389, 6.09,1.594, 6.10,1.508,
  6.11,1.659, 6.12,1.543, 6.13,1.462, 6.14,1.604, 6.15,1.527, 6.16,1.415, 6.17,1.566, 6.18,1.486, 6.19,1.641, 6.20,1.549,
  6.21,1.452, 6.22,1.581, 6.23,1.515, 6.24,1.373, 6.02,1.538, 6.05,1.606, 6.08,1.478, 6.11,1.529, 6.14,1.443, 6.17,1.677,
  6.20,1.501, 6.23,1.568,
  6.26,1.552, 6.27,1.617, 6.28,1.486, 6.29,1.573, 6.30,1.639, 6.31,1.524, 6.32,1.456, 6.33,1.591, 6.34,1.547, 6.35,1.703,
  6.36,1.508, 6.37,1.578, 6.38,1.433, 6.39,1.562, 6.40,1.621, 6.41,1.495, 6.42,1.543, 6.43,1.668, 6.44,1.469, 6.45,1.585,
  6.46,1.531, 6.47,1.407, 6.48,1.604, 6.49,1.557, 6.28,1.537, 6.34,1.478, 6.40,1.652, 6.46,1.566,
  6.52,1.574, 6.54,1.508, 6.56,1.641, 6.58,1.545, 6.60,1.454, 6.62,1.596, 6.64,1.559, 6.66,1.412, 6.68,1.617, 6.70,1.531,
  6.72,1.682, 6.74,1.566, 6.76,1.485, 6.78,1.627, 6.80,1.550, 6.82,1.438, 6.84,1.589, 6.86,1.509, 6.88,1.664, 6.90,1.572,
  6.92,1.475, 6.94,1.604, 6.96,1.538, 6.98,1.396
];

// upper and lower flanks of the crowded blob
const blobFlanks = [
  2.51,1.318, 2.52,1.552, 2.53,1.347, 2.55,1.523, 2.56,1.302, 2.57,1.571, 2.58,1.366, 2.60,1.538, 2.61,1.329, 2.62,1.497, 2.63,1.354,
  2.65,1.561, 2.66,1.381, 2.67,1.514, 2.68,1.311, 2.70,1.546, 2.71,1.343, 2.72,1.505, 2.73,1.372, 2.74,1.566, 2.59,1.478, 2.64,1.392,
  2.76,1.296, 2.77,1.574, 2.78,1.331, 2.80,1.548, 2.81,1.285, 2.82,1.592, 2.83,1.358, 2.85,1.527, 2.86,1.312, 2.87,1.569, 2.88,1.344,
  2.90,1.506, 2.91,1.291, 2.92,1.583, 2.93,1.369, 2.95,1.541, 2.96,1.322, 2.97,1.512, 2.98,1.351, 2.99,1.596, 2.84,1.489, 2.89,1.377,
  3.01,1.283, 3.02,1.587, 3.03,1.321, 3.05,1.556, 3.06,1.276, 3.07,1.603, 3.08,1.349, 3.10,1.534, 3.11,1.304, 3.12,1.578, 3.13,1.336,
  3.15,1.518, 3.16,1.279, 3.17,1.596, 3.18,1.362, 3.20,1.549, 3.21,1.313, 3.22,1.524, 3.23,1.341, 3.24,1.607, 3.09,1.497, 3.14,1.371,
  3.26,1.271, 3.27,1.598, 3.28,1.309, 3.30,1.567, 3.31,1.265, 3.32,1.614, 3.33,1.338, 3.35,1.545, 3.36,1.292, 3.37,1.589, 3.38,1.326,
  3.40,1.529, 3.41,1.268, 3.42,1.607, 3.43,1.353, 3.45,1.561, 3.46,1.301, 3.47,1.536, 3.48,1.332, 3.49,1.617, 3.34,1.508, 3.39,1.362,
  3.51,1.262, 3.52,1.617, 3.53,1.301, 3.55,1.584, 3.56,1.256, 3.57,1.633, 3.58,1.329, 3.60,1.562, 3.61,1.283, 3.62,1.608, 3.63,1.317,
  3.65,1.546, 3.66,1.259, 3.67,1.626, 3.68,1.344, 3.70,1.578, 3.71,1.292, 3.72,1.553, 3.73,1.323, 3.74,1.636, 3.59,1.521, 3.64,1.355,
  3.76,1.258, 3.77,1.624, 3.78,1.297, 3.80,1.592, 3.81,1.253, 3.82,1.642, 3.83,1.326, 3.85,1.569, 3.86,1.279, 3.87,1.616, 3.88,1.313,
  3.90,1.553, 3.91,1.257, 3.92,1.634, 3.93,1.341, 3.95,1.586, 3.96,1.288, 3.97,1.561, 3.98,1.319, 3.99,1.646, 3.84,1.527, 3.89,1.352,
  4.01,1.261, 4.02,1.633, 4.03,1.299, 4.05,1.601, 4.06,1.254, 4.07,1.652, 4.08,1.328, 4.10,1.577, 4.11,1.282, 4.12,1.625, 4.13,1.315,
  4.15,1.561, 4.16,1.259, 4.17,1.643, 4.18,1.343, 4.20,1.594, 4.21,1.291, 4.22,1.569, 4.23,1.321, 4.24,1.657, 4.09,1.535, 4.14,1.356,
  4.26,1.268, 4.27,1.651, 4.28,1.307, 4.30,1.617, 4.31,1.262, 4.32,1.671, 4.33,1.336, 4.35,1.593, 4.36,1.289, 4.37,1.642, 4.38,1.323,
  4.40,1.577, 4.41,1.266, 4.42,1.661, 4.43,1.351, 4.45,1.609, 4.46,1.298, 4.47,1.584, 4.48,1.329, 4.49,1.676, 4.34,1.548, 4.39,1.364,
  4.51,1.271, 4.52,1.662, 4.53,1.312, 4.55,1.627, 4.56,1.265, 4.57,1.682, 4.58,1.341, 4.60,1.602, 4.61,1.293, 4.62,1.652, 4.63,1.328,
  4.65,1.586, 4.66,1.269, 4.67,1.672, 4.68,1.356, 4.70,1.618, 4.71,1.302, 4.72,1.593, 4.73,1.334, 4.74,1.686, 4.59,1.557, 4.64,1.371,
  4.76,1.279, 4.77,1.671, 4.78,1.319, 4.80,1.637, 4.81,1.273, 4.82,1.691, 4.83,1.348, 4.85,1.611, 4.86,1.301, 4.87,1.662, 4.88,1.335,
  4.90,1.595, 4.91,1.276, 4.92,1.682, 4.93,1.363, 4.95,1.628, 4.96,1.309, 4.97,1.603, 4.98,1.341, 4.99,1.696, 4.84,1.566, 4.89,1.379,
  5.01,1.288, 5.02,1.681, 5.03,1.328, 5.05,1.646, 5.06,1.282, 5.07,1.702, 5.08,1.357, 5.10,1.621, 5.11,1.309, 5.12,1.672, 5.13,1.344,
  5.15,1.605, 5.16,1.285, 5.17,1.692, 5.18,1.372, 5.20,1.638, 5.21,1.318, 5.22,1.613, 5.23,1.350, 5.24,1.706, 5.09,1.576, 5.14,1.388,
  5.26,1.297, 5.27,1.692, 5.28,1.336, 5.30,1.656, 5.31,1.291, 5.32,1.712, 5.33,1.366, 5.35,1.631, 5.36,1.318, 5.37,1.682, 5.38,1.353,
  5.40,1.615, 5.41,1.294, 5.42,1.702, 5.43,1.381, 5.45,1.648, 5.46,1.327, 5.47,1.623, 5.48,1.359, 5.49,1.716, 5.34,1.586, 5.39,1.397,
  5.51,1.308, 5.52,1.694, 5.53,1.347, 5.55,1.659, 5.56,1.302, 5.57,1.713, 5.58,1.376, 5.60,1.634, 5.61,1.329, 5.62,1.684, 5.63,1.363,
  5.65,1.618, 5.66,1.305, 5.67,1.703, 5.68,1.391, 5.70,1.651, 5.71,1.338, 5.72,1.626, 5.73,1.369, 5.74,1.717, 5.59,1.589, 5.64,1.406,
  5.76,1.327, 5.77,1.703, 5.78,1.366, 5.80,1.668, 5.81,1.322, 5.82,1.722, 5.83,1.394, 5.85,1.643, 5.86,1.348, 5.87,1.693, 5.88,1.382,
  5.90,1.627, 5.91,1.324, 5.92,1.712, 5.93,1.409, 5.95,1.660, 5.96,1.357, 5.97,1.635, 5.98,1.388, 5.99,1.726, 5.84,1.598, 5.89,1.424,
  6.01,1.347, 6.02,1.706, 6.03,1.384, 6.05,1.672, 6.06,1.342, 6.07,1.723, 6.08,1.411, 6.10,1.648, 6.11,1.366, 6.12,1.697, 6.13,1.399,
  6.15,1.632, 6.16,1.344, 6.17,1.714, 6.18,1.426, 6.20,1.664, 6.21,1.375, 6.22,1.641, 6.23,1.405, 6.24,1.727, 6.09,1.603, 6.14,1.441,
  6.26,1.367, 6.27,1.707, 6.28,1.403, 6.30,1.675, 6.31,1.362, 6.32,1.724, 6.33,1.428, 6.35,1.651, 6.36,1.385, 6.37,1.698, 6.38,1.417,
  6.40,1.636, 6.41,1.364, 6.42,1.715, 6.43,1.443, 6.45,1.667, 6.46,1.393, 6.47,1.644, 6.48,1.422, 6.49,1.728, 6.34,1.607, 6.39,1.456,
  6.51,1.396, 6.52,1.701, 6.53,1.429, 6.55,1.672, 6.56,1.392, 6.57,1.716, 6.58,1.452, 6.60,1.648, 6.61,1.413, 6.62,1.693, 6.63,1.441,
  6.65,1.633, 6.66,1.394, 6.67,1.709, 6.68,1.466, 6.70,1.662, 6.71,1.421, 6.72,1.641, 6.73,1.447, 6.74,1.718, 6.59,1.605, 6.64,1.478,
  6.76,1.426, 6.77,1.698, 6.78,1.456, 6.80,1.671, 6.81,1.423, 6.82,1.714, 6.83,1.479, 6.85,1.647, 6.86,1.441, 6.87,1.691, 6.88,1.468,
  6.90,1.631, 6.91,1.425, 6.92,1.706, 6.93,1.491, 6.95,1.659, 6.96,1.449, 6.97,1.638, 6.98,1.472, 6.99,1.716, 6.84,1.604, 6.89,1.503,
  7.01,1.456, 7.03,1.692, 7.05,1.483, 7.07,1.664, 7.09,1.452, 7.11,1.705, 7.13,1.507, 7.15,1.641, 7.17,1.469, 7.19,1.683, 7.21,1.494,
  7.23,1.626, 7.24,1.458, 7.06,1.587, 7.14,1.534, 7.20,1.611,
  7.26,1.487, 7.28,1.681, 7.30,1.512, 7.32,1.656, 7.34,1.483, 7.36,1.692, 7.38,1.533, 7.40,1.634, 7.42,1.498, 7.44,1.675, 7.46,1.521,
  7.48,1.618, 7.35,1.576, 7.45,1.595
];

// fringe: rising left edge, thin halo above and below, right shoulder, extra fill
const cloudFringe = [
  1.52,1.412, 1.55,1.463, 1.57,1.352, 1.60,1.498, 1.62,1.387, 1.64,1.441, 1.66,1.326, 1.69,1.519, 1.71,1.404, 1.73,1.457,
  1.75,1.368, 1.77,1.531, 1.79,1.421, 1.81,1.479, 1.83,1.341, 1.85,1.552, 1.87,1.432, 1.89,1.396, 1.91,1.487, 1.93,1.313,
  1.95,1.445, 1.97,1.508, 1.99,1.377, 2.01,1.462, 2.03,1.548, 2.05,1.426, 2.07,1.334, 2.09,1.491, 2.11,1.407, 2.13,1.567,
  2.15,1.383, 2.17,1.449, 2.19,1.522, 2.21,1.346, 2.23,1.471, 2.25,1.419, 2.27,1.301, 2.29,1.536, 2.31,1.392, 2.33,1.458,
  2.35,1.575, 2.37,1.433, 2.39,1.362, 2.41,1.502, 2.43,1.414, 2.45,1.327, 2.47,1.544, 2.49,1.451, 1.68,1.588, 1.84,1.284,
  2.00,1.602, 2.16,1.277, 2.32,1.611, 2.44,1.269, 1.92,1.452, 2.08,1.396, 2.24,1.413, 2.36,1.487, 2.46,1.395, 1.76,1.405,
  3.55,1.684, 3.72,1.712, 3.90,1.695, 4.05,1.728, 4.18,1.702, 4.31,1.745, 4.46,1.719, 4.58,1.698, 4.71,1.757, 4.84,1.731,
  4.96,1.709, 5.09,1.768, 5.21,1.742, 5.33,1.721, 5.46,1.783, 5.58,1.752, 5.70,1.734, 5.83,1.797, 5.95,1.761, 6.06,1.744,
  6.19,1.786, 6.31,1.758, 6.44,1.771, 6.56,1.749, 6.68,1.792, 6.81,1.763, 6.93,1.741, 7.05,1.781, 7.17,1.756, 7.29,1.737,
  7.41,1.769, 7.53,1.748, 7.66,1.727, 7.78,1.752, 7.91,1.718, 8.03,1.739, 4.92,1.776, 5.14,1.739, 5.39,1.758, 5.62,1.776,
  5.88,1.748, 6.12,1.771, 6.37,1.806, 6.61,1.774, 6.87,1.812, 7.11,1.742, 7.35,1.795, 7.60,1.771, 4.40,1.688, 4.66,1.735,
  2.58,1.262, 2.74,1.238, 2.91,1.251, 3.03,1.213, 3.17,1.246, 3.29,1.229, 3.42,1.198, 3.55,1.237, 3.68,1.214, 3.80,1.249,
  3.93,1.186, 4.06,1.226, 4.19,1.207, 4.32,1.243, 4.44,1.192, 4.57,1.231, 4.69,1.215, 4.82,1.248, 4.94,1.201, 5.07,1.236,
  5.19,1.219, 5.32,1.254, 5.44,1.209, 5.57,1.241, 5.69,1.227, 5.82,1.262, 5.94,1.231, 6.07,1.268, 6.20,1.245, 6.33,1.277,
  3.11,1.263, 3.36,1.252, 3.61,1.264, 3.86,1.227, 4.12,1.258, 4.37,1.219, 4.63,1.261, 4.88,1.233, 5.13,1.265, 5.38,1.239,
  5.63,1.272, 3.48,1.173, 4.00,1.168, 4.52,1.178, 5.01,1.182,
  7.02,1.548, 7.06,1.612, 7.11,1.579, 7.15,1.526, 7.19,1.641, 7.24,1.592, 7.28,1.557, 7.33,1.623, 7.37,1.571, 7.42,1.536,
  7.46,1.652, 7.51,1.603, 7.55,1.566, 7.60,1.629, 7.64,1.583, 7.69,1.548, 7.73,1.661, 7.78,1.614, 7.82,1.577, 7.87,1.638,
  7.91,1.596, 7.96,1.559, 8.00,1.668, 8.05,1.624, 8.09,1.587, 8.14,1.649, 8.18,1.606, 8.23,1.571, 8.27,1.676, 8.32,1.632,
  8.36,1.598, 8.41,1.657, 8.45,1.615, 8.49,1.583, 7.30,1.508, 7.58,1.521, 7.84,1.532, 8.12,1.546, 8.38,1.556, 7.44,1.689,
  3.03,1.452, 3.13,1.381, 3.22,1.517, 3.31,1.415, 3.41,1.358, 3.52,1.488, 3.61,1.431, 3.72,1.546, 3.81,1.372, 3.91,1.469,
  4.02,1.403, 4.12,1.532, 4.21,1.447, 4.31,1.361, 4.42,1.573, 4.52,1.426, 4.61,1.498, 4.72,1.383, 4.81,1.552, 4.91,1.461,
  5.02,1.407, 5.12,1.589, 5.21,1.483, 5.31,1.426, 5.42,1.551, 5.52,1.398, 5.61,1.612, 5.72,1.504, 5.81,1.447, 5.91,1.583,
  6.02,1.432, 6.12,1.627, 6.21,1.519, 6.31,1.466, 6.42,1.595,
  3.08,1.498, 3.18,1.423, 3.27,1.467, 3.37,1.529, 3.47,1.402, 3.57,1.371, 3.66,1.457, 3.77,1.418, 3.86,1.574, 3.96,1.352,
  4.07,1.481, 4.16,1.389, 4.26,1.512, 4.36,1.447, 4.47,1.365, 4.56,1.541, 4.66,1.417, 4.77,1.594, 4.86,1.372, 4.96,1.528,
  5.07,1.452, 5.16,1.379, 5.26,1.624, 5.36,1.493, 5.47,1.418, 5.56,1.563, 5.66,1.471, 5.77,1.392, 5.86,1.641, 5.96,1.508,
  6.07,1.456, 6.16,1.589, 6.26,1.412, 6.36,1.538, 6.46,1.473
];

// fitted line, read at the edges of the plot region
const fitMassA = [-1.62, 10.11];
const fitTpA = [1.291, 1.617];

const xTicksA = [0, 2, 4, 6, 8, 10];
const xLabelsA = ['0', '2', '4', '6', '8', '10'];
const yTicksA = [0.8, 1.0, 1.2, 1.4, 1.6, 1.8];
const yLabelsA = ['0.8', '1.0', '1.2', '1.4', '1.6', '1.8'];

// ---- Panel B: species contrasts ----
const speciesMassPic = [
  -1.724, -1.310, -1.027, -0.993, -0.926, -0.835, -0.761, -0.781, -0.694, -0.670, -0.646, -0.643,
  -0.488, -0.448, -0.434, -0.337, -0.283, -0.242, -0.242, -0.175, -0.108, -0.040, -0.034, 0.013,
  0.020, 0.057, 0.054, 0.064, 0.114, 0.114, 0.145, 0.195, 0.199, 0.219, 0.310, 0.313,
  0.458, 0.572, 0.744, 0.751, 0.771, 0.795, 0.801, 1.061, 1.306, 1.465, 1.599
];
const corrMassTpPic = [
  -0.235, -0.056, 0.009, 0.085, 0.021, -0.317, -0.042, -0.068, 0.030, -0.125, -0.142, -0.062,
  -0.135, -0.185, -0.215, -0.104, 0.042, 0.019, -0.095, 0.067, 0.015, 0.001, 0.050, -0.129,
  -0.016, 0.008, -0.056, 0.100, -0.060, -0.266, 0.002, -0.208, -0.028, -0.103, 0.213, 0.374,
  -0.382, -0.062, -0.018, 0.045, 0.071, -0.045, 0.045, 0.580, 0.212, 0.194, 0.156
];
const fitMassB = [-1.855, 1.734];
const fitCorrB = [-0.210, 0.171];

const xTicksB = [-1.5, -1.0, -0.5, 0.0, 0.5, 1.0, 1.5];
const xLabelsB = ['\u22121.5', '', '\u22120.5', '', '0.5', '1.0', '1.5'];
const yTicksB = [-0.4, -0.2, 0.0, 0.2, 0.4, 0.6];
const yLabelsB = ['\u22120.4', '\u22120.2', '0.0', '0.2', '0.4', '0.6'];

const FONT = '"Liberation Sans", Arial, Helvetica, sans-serif';
const INK = '#111';

function pairs(flat) {
  const pts = [];
  for (let i = 0; i < flat.length; i += 2) pts.push({ x: flat[i], y: flat[i + 1] });
  return pts;
}
function zipXY(xs, ys) {
  return xs.map((x, i) => ({ x, y: ys[i] }));
}

// frame, tick labels, axis titles and panel tag, drawn in base-graphics style
function framePlugin(o) {
  return {
    id: 'frame',
    afterDraw(chart) {
      const { ctx, chartArea: a, scales } = chart;
      ctx.save();
      ctx.strokeStyle = INK;
      ctx.lineWidth = 1.5;
      ctx.strokeRect(a.left, a.top, a.right - a.left, a.bottom - a.top);

      ctx.fillStyle = INK;
      ctx.textAlign = 'center';
      ctx.textBaseline = 'middle';
      ctx.font = o.tickSize + 'px ' + FONT;
      o.xTicks.forEach((v, i) => {
        if (o.xLabels[i]) ctx.fillText(o.xLabels[i], scales.x.getPixelForValue(v), o.xLabelY);
      });
      o.yTicks.forEach((v, i) => {
        ctx.save();
        ctx.translate(o.yLabelX, scales.y.getPixelForValue(v));
        ctx.rotate(-Math.PI / 2);
        ctx.fillText(o.yLabels[i], 0, 0);
        ctx.restore();
      });

      ctx.font = o.titleSize + 'px ' + FONT;
      ctx.fillText(o.xTitle, o.xTitleX, o.xTitleY);
      ctx.save();
      ctx.translate(o.yTitleX, (a.top + a.bottom) / 2);
      ctx.rotate(-Math.PI / 2);
      ctx.fillText(o.yTitle, 0, 0);
      ctx.restore();

      ctx.font = 'bold ' + o.tagSize + 'px ' + FONT;
      ctx.fillText(o.tag, o.tagX, o.tagY);
      ctx.restore();
    }
  };
}

function axis(min, max, ticks, size, horizontal) {
  return {
    type: 'linear',
    min: min,
    max: max,
    afterBuildTicks: (s) => { s.ticks = ticks.map((v) => ({ value: v })); },
    afterFit: (s) => { if (horizontal) s.height = size; else s.width = size; },
    grid: { display: true, drawOnChartArea: false, drawTicks: true, tickLength: 13, color: INK, lineWidth: 1.4 },
    border: { display: false },
    ticks: { display: false }
  };
}

const lineStyle = { type: 'line', showLine: true, borderColor: INK, borderWidth: 1.3, pointRadius: 0, fill: false, order: 0 };

new Chart(document.getElementById('panelA'), {
  type: 'scatter',
  data: {
    datasets: [
      Object.assign({ data: zipXY(fitMassA, fitTpA) }, lineStyle),
      {
        data: pairs([].concat(outliersA, mass0to2, mass2to3, mass3to4, mass4to5, mass5to6, mass6to7, mass7to10,
          denseCore, blobFlanks, cloudFringe)),
        pointStyle: 'rect',
        pointRadius: 2.1,
        pointBorderWidth: 0,
        backgroundColor: '#000',
        order: 1
      }
    ]
  },
  options: {
    responsive: false,
    animation: false,
    devicePixelRatio: 1,
    layout: { padding: { left: 0, right: 66, top: 10, bottom: 0 } },
    plugins: { legend: { display: false }, tooltip: { enabled: false } },
    scales: {
      x: axis(-1.62, 10.11, xTicksA, 123, true),
      y: axis(0.654, 1.982, yTicksA, 136, false)
    }
  },
  plugins: [framePlugin({
    xTicks: xTicksA, xLabels: xLabelsA, yTicks: yTicksA, yLabels: yLabelsA,
    tickSize: 22, titleSize: 27.5, tagSize: 17,
    xLabelY: 482, yLabelX: 97,
    xTitle: 'Log-transformed Individual body mass (grams)', xTitleX: 338, xTitleY: 527,
    yTitle: 'Log transformed individual TP', yTitleX: 28,
    tag: 'A', tagX: 171, tagY: 35
  })]
});

new Chart(document.getElementById('panelB'), {
  type: 'scatter',
  data: {
    datasets: [
      Object.assign({ data: zipXY(fitMassB, fitCorrB) }, lineStyle),
      {
        data: zipXY(speciesMassPic, corrMassTpPic),
        pointStyle: 'circle',
        pointRadius: 5.3,
        pointBorderWidth: 1.4,
        borderColor: INK,
        backgroundColor: 'rgba(0,0,0,0)',
        order: 1
      }
    ]
  },
  options: {
    responsive: false,
    animation: false,
    devicePixelRatio: 1,
    layout: { padding: { left: 0, right: 66, top: 48, bottom: 0 } },
    plugins: { legend: { display: false }, tooltip: { enabled: false } },
    scales: {
      x: axis(-1.855, 1.734, xTicksB, 112, true),
      y: axis(-0.420, 0.619, yTicksB, 136, false)
    }
  },
  plugins: [framePlugin({
    xTicks: xTicksB, xLabels: xLabelsB, yTicks: yTicksB, yLabels: yLabelsB,
    tickSize: 22, titleSize: 27.5, tagSize: 18,
    xLabelY: 519, yLabelX: 97,
    xTitle: 'Species mean body mass (PIC)', xTitleX: 338, xTitleY: 572,
    yTitle: 'Correlations body mass/TP (PIC)', yTitleX: 28,
    tag: 'B', tagX: 162, tagY: 73
  })]
});
</script>
</body>
</html>
